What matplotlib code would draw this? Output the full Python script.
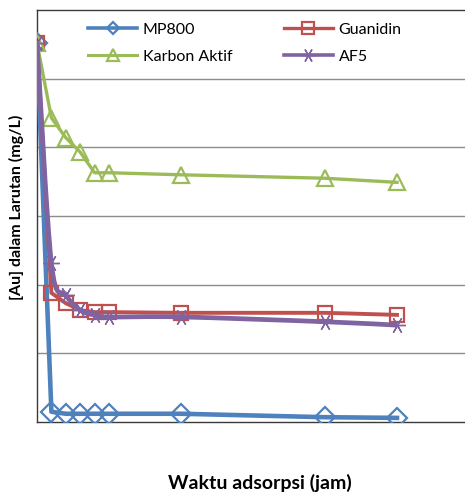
import numpy as np
import matplotlib
matplotlib.use("Agg")
import matplotlib.pyplot as plt
from matplotlib.path import Path
from matplotlib.patches import PathPatch

# Data (y in arbitrary units, axis 0-60 with no tick labels)
time_h = [0, 1, 2, 3, 4, 5, 10, 20, 25]
mp800 = [55.2, 1.5, 1.2, 1.2, 1.2, 1.2, 1.2, 0.7, 0.6]
guanidin = [55.2, 18.8, 17.3, 16.3, 16.0, 16.0, 15.9, 15.9, 15.6]
karbon = [55.2, 44.3, 41.4, 39.3, 36.3, 36.3, 36.0, 35.5, 34.9]
af5 = [55.2, 23.1, 18.5, 16.3, 15.6, 15.3, 15.3, 14.6, 14.1]

labels = ["MP800", "Guanidin", "Karbon Aktif", "AF5"]
colors = ["#4F81BD", "#C0504D", "#9BBB59", "#8064A2"]

plt.rcParams['font.family'] = ['Lato', 'DejaVu Sans']

fig = plt.figure(figsize=(4.65, 4.92), dpi=100)
ax = fig.add_axes([37/465, 70/492, 432/465, 412/492])
ax.set_xlim(0, 30)
ax.set_ylim(0, 60)

for y in [10, 20, 30, 40, 50]:
    ax.axhline(y, color="#8c8c8c", lw=1.0, zorder=0)


def smooth_path(xs, ys):
    xs = np.asarray(xs, float)
    ys = np.asarray(ys, float)
    n = len(xs)
    verts = [(xs[0], ys[0])]
    codes = [Path.MOVETO]
    for i in range(n - 1):
        p0 = np.array([xs[max(i - 1, 0)], ys[max(i - 1, 0)]])
        p1 = np.array([xs[i], ys[i]])
        p2 = np.array([xs[i + 1], ys[i + 1]])
        p3 = np.array([xs[min(i + 2, n - 1)], ys[min(i + 2, n - 1)]])
        c1 = p1 + (p2 - p0) / 6.0
        c2 = p2 - (p3 - p1) / 6.0
        verts += [tuple(c1), tuple(c2), tuple(p2)]
        codes += [Path.CURVE4] * 3
    return Path(verts, codes)


star = (6, 2, 90)

h_mp, = ax.plot(time_h, mp800, color=colors[0], lw=3.3, marker="D", ms=10.5,
                mfc="none", mec=colors[0], mew=1.6, zorder=3)
h_gu, = ax.plot(time_h, guanidin, color=colors[1], lw=2.8, marker="s", ms=9.5,
                mfc="none", mec=colors[1], mew=1.6, zorder=3)
h_ka, = ax.plot(time_h, karbon, color=colors[2], lw=2.4, marker="^", ms=11,
                mfc="none", mec=colors[2], mew=1.6, zorder=3)
ax.add_patch(PathPatch(smooth_path(time_h, af5), fc="none", ec=colors[3],
                       lw=3.4, zorder=4))
ax.plot(time_h, af5, color=colors[3], lw=0, marker=star, ms=12,
        mec=colors[3], mew=1.0, zorder=4)

# legend proxies (smaller markers, like the reference legend)
p_mp, = ax.plot([], [], color=colors[0], lw=2.6, marker="D", ms=6,
                mfc="none", mec=colors[0], mew=1.6)
p_gu, = ax.plot([], [], color=colors[1], lw=2.4, marker="s", ms=9,
                mfc="none", mec=colors[1], mew=1.6)
p_ka, = ax.plot([], [], color=colors[2], lw=2.2, marker="^", ms=9,
                mfc="none", mec=colors[2], mew=1.6)
p_af, = ax.plot([], [], color=colors[3], lw=2.6, marker=star, ms=10,
                mec=colors[3], mew=1.0)

ax.set_xticks([])
ax.set_yticks([])
for s in ["left", "bottom", "top"]:
    ax.spines[s].set_color("#3a3a3a")
    ax.spines[s].set_linewidth(1.0)
ax.spines["right"].set_visible(False)

leg = ax.legend([p_mp, p_ka, p_gu, p_af],
                [labels[0], labels[2], labels[1], labels[3]],
                loc="upper left", bbox_to_anchor=(38/432, 1.0), ncol=2,
                frameon=False, fontsize=11.5, handlelength=3.1,
                columnspacing=3.2, labelspacing=0.8, borderaxespad=0.4,
                handletextpad=0.35)

fig.text(16/465, 1 - 207/492, "[Au] dalam Larutan (mg/L)", rotation=90,
         ha="center", va="center", fontsize=11.5, fontweight="bold")
fig.text(260/465, 1 - 483/492, "Waktu adsorpsi (jam)", ha="center",
         va="center", fontsize=14, fontweight="bold")

fig.savefig("out.png", dpi=100)
